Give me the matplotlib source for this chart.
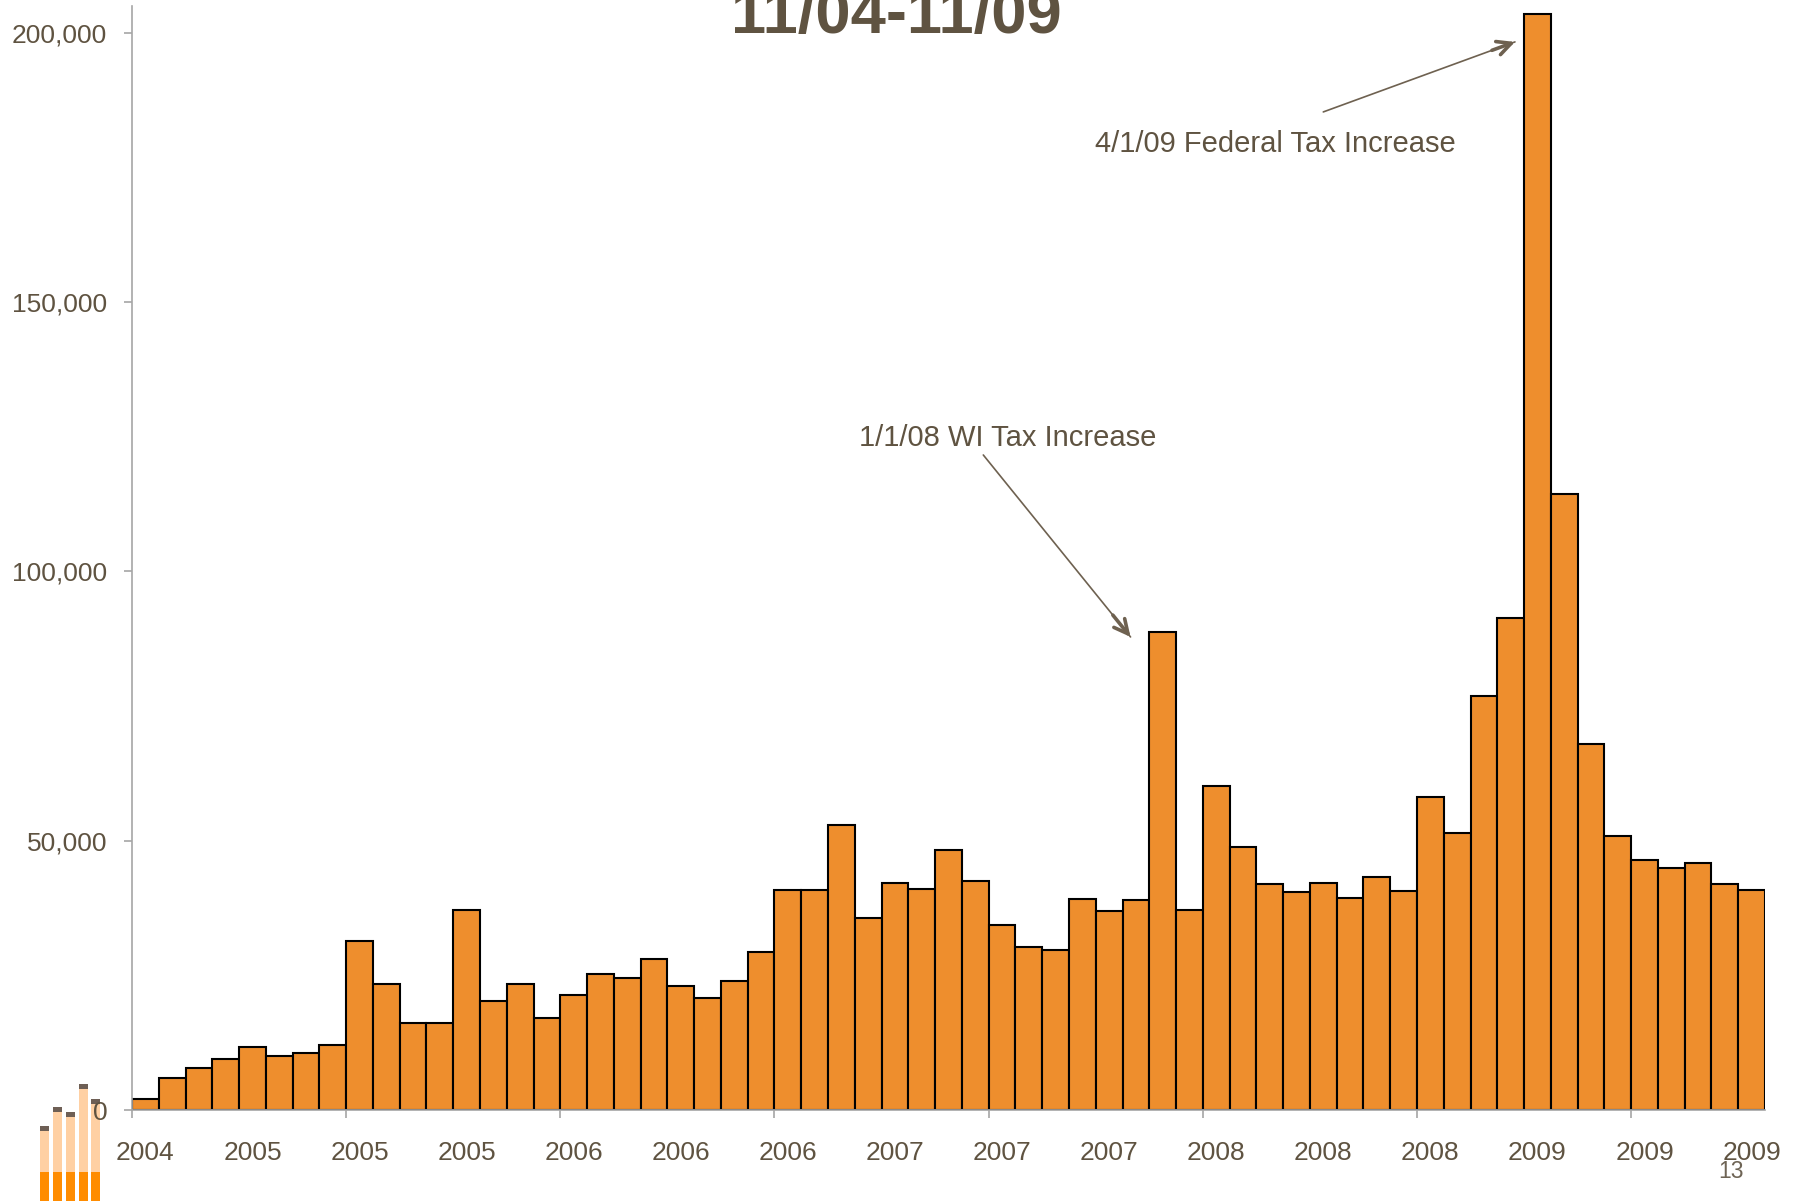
import matplotlib
matplotlib.use("Agg")
import matplotlib.pyplot as plt
from matplotlib.ticker import StrMethodFormatter

plt.rcParams['font.family'] = ['Liberation Sans', 'DejaVu Sans']

# monthly values, 11/04 - 11/09
values = [2100, 5900, 7800, 9500, 11700, 10000, 10600, 12100, 31300, 23400,
          16200, 16100, 37100, 20300, 23400, 17000, 21300, 25300, 24500, 28000,
          23000, 20800, 24000, 29300, 40800, 40900, 52900, 35600, 42200, 41100,
          48300, 42500, 34400, 30200, 29800, 39200, 37000, 39000, 88800, 37100,
          60100, 48800, 41900, 40400, 42200, 39400, 43200, 40700, 58100, 51400,
          76800, 91300, 203500, 114400, 68000, 50900, 46500, 45000, 45800, 41900,
          40800]
year_labels = ["2004", "2005", "2005", "2005", "2006", "2006", "2006", "2007",
               "2007", "2007", "2008", "2008", "2008", "2009", "2009", "2009"]
y_ticks = [0, 50000, 100000, 150000, 200000]

# little logo in the corner, heights in pixels
logo_base = [29, 29, 29, 29, 29]
logo_light = [41, 60, 55, 83, 68]
logo_cap = [5, 5, 5, 5, 5]
logo_x = [0, 13, 26, 39, 51]

text_col = "#5F5341"
axis_col = "#A6A6A6"
W, H = 1799, 1201

fig = plt.figure(figsize=(W / 100, H / 100), dpi=100)

# logo goes under the main axes so the 0 label sits on top of it
logo = fig.add_axes([40 / W, 0, 60 / W, 117 / H], zorder=0)
logo.set_xlim(0, 60)
logo.set_ylim(0, 117)
logo.axis("off")
logo.bar(logo_x, logo_base, width=9, align="edge", color="#FF8C00")
logo.bar(logo_x, logo_light, width=9, align="edge", bottom=logo_base, color="#FFD0A3")
tops = [a + b for a, b in zip(logo_base, logo_light)]
logo.bar(logo_x, logo_cap, width=9, align="edge", bottom=tops, color="#6E5F55")

ax = fig.add_axes([132 / W, (H - 1110) / H, (1765 - 132) / W, 1104 / H], zorder=1)
ax.patch.set_alpha(0)

xs = [i + 0.5 for i in range(len(values))]
ax.bar(xs, values, width=1, color="#EE8E2D", edgecolor="black", linewidth=1.5)

ax.set_xlim(0, len(values))
ax.set_ylim(0, 205000)

ax.spines['top'].set_visible(False)
ax.spines['right'].set_visible(False)
ax.spines['left'].set_color(axis_col)
ax.spines['bottom'].set_color(axis_col)
ax.spines['left'].set_linewidth(1.2)
ax.spines['bottom'].set_linewidth(1.2)
ax.spines['bottom'].set_zorder(1)

ax.set_yticks(y_ticks)
ax.yaxis.set_major_formatter(StrMethodFormatter("{x:,.0f}"))
ax.tick_params(axis="y", length=5.8, width=1.2, color=axis_col, labelcolor=text_col,
               labelsize=19, pad=12)

# tick marks every 8 bars on the edges, labels every 4 bars on the bar centres
ax.set_xticks(range(0, len(values), 8))
ax.set_xticklabels([])
ax.set_xticks([xs[i] for i in range(0, len(values), 4)], minor=True)
ax.set_xticklabels(year_labels, minor=True)
ax.tick_params(axis="x", which="major", length=5.8, width=1.2, color=axis_col)
ax.tick_params(axis="x", which="minor", length=0, labelcolor=text_col, labelsize=19, pad=22.5)

fig.text(896 / W, (H - 33) / H, "11/04-11/09", fontsize=45.5, fontweight="bold",
         color=text_col, ha="center", va="baseline")
fig.text(1731 / W, (H - 1172) / H, "13", fontsize=16.5, color="#6E6455", ha="center", va="center")


def tax_note(label, text_xy, start, tip):
    ax.text(text_xy[0], text_xy[1], label, fontsize=21, color=text_col, ha="center", va="center")
    ax.annotate("", xy=tip, xytext=start,
                arrowprops=dict(arrowstyle="-", color="#6E6150", lw=1.2, shrinkA=0, shrinkB=0))
    # head is heavier than the shaft
    back = (tip[0] - (tip[0] - start[0]) * 0.12, tip[1] - (tip[1] - start[1]) * 0.12)
    ax.annotate("", xy=tip, xytext=back,
                arrowprops=dict(arrowstyle="->,head_length=1.0,head_width=0.5", color="#6E6150",
                                lw=2.6, shrinkA=0, shrinkB=0))


tax_note("4/1/09 Federal Tax Increase", (42.7, 179300), (44.5, 185330), (51.66, 198330))
tax_note("1/1/08 WI Tax Increase", (32.7, 124800), (31.8, 121630), (37.3, 87840))

fig.savefig("out.png", dpi=100)
